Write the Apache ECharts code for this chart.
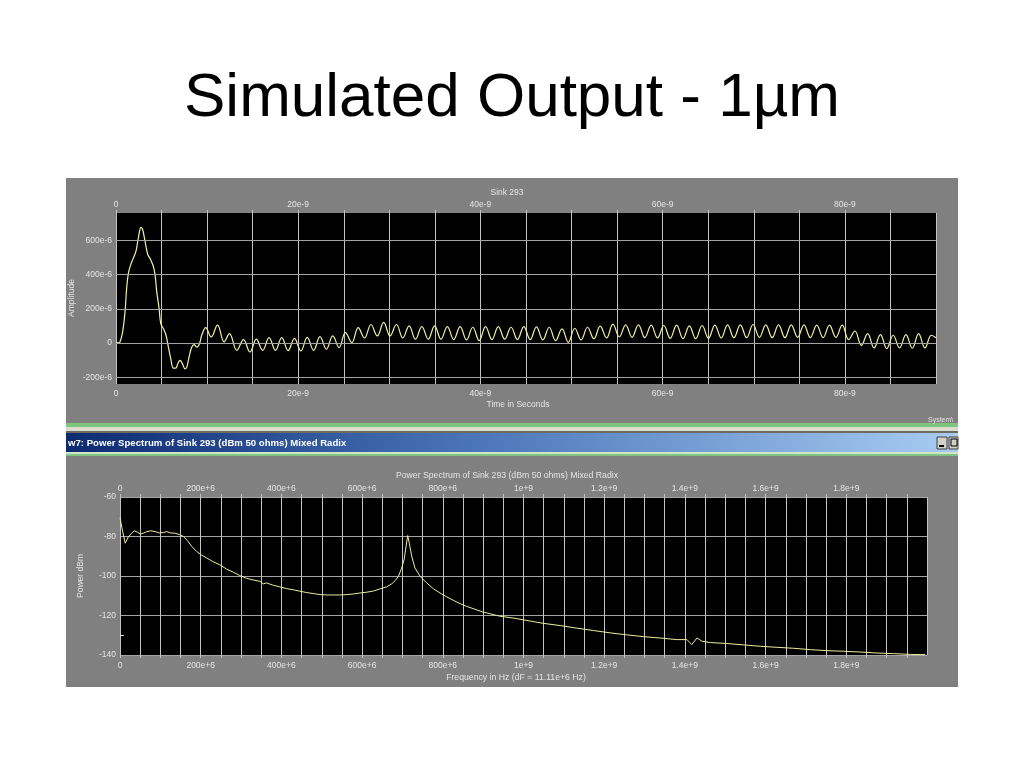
<!DOCTYPE html>
<html><head><meta charset="utf-8">
<script src="https://cdn.jsdelivr.net/npm/echarts@6/dist/echarts.min.js"></script>
<style>html,body{margin:0;padding:0;background:#fff;}#c{width:1024px;height:768px;}</style>
</head><body><div id="c"></div>
<script>
// ---------- texts ----------
const pageTitle = 'Simulated Output - 1\u00b5m';
const timeTitle = 'Sink 293';
const timeAxisName = 'Time in Seconds';
const ampAxisName = 'Amplitude';
const specWindowTitle = 'w7: Power Spectrum of Sink 293 (dBm 50 ohms) Mixed Radix';
const specTitle = 'Power Spectrum of Sink 293 (dBm 50 ohms) Mixed Radix';
const freqAxisName = 'Frequency in Hz (dF = 11.11e+6 Hz)';
const powerAxisName = 'Power dBm';
const cornerText = 'System\\';

// ---------- top chart: amplitude (units of 1e-6) vs time (ns) ----------
const ampGridLines = [-200, 0, 200, 400, 600];
const timeNs = [0, 0.26, 0.44, 0.73, 0.99, 1.17, 1.36, 1.61, 1.90, 2.20,
  2.45, 2.75, 2.93, 3.19, 3.48, 3.81, 4.10, 4.29, 4.47, 4.73,
  4.91, 5.20, 5.49, 5.75, 6.01, 6.30, 6.56, 6.78, 7.03, 7.29,
  7.58, 7.77, 8.02, 8.32, 8.57, 8.86, 9.16, 9.41, 9.85, 10.44,
  11.14, 11.87, 12.45, 13.26,
  14.00, 14.70, 15.40, 16.10, 16.80, 17.50, 18.19, 18.89, 19.59, 20.29,
  20.99, 21.69, 22.39, 23.09, 23.79, 24.49, 25.18, 25.88, 26.58, 27.28,
  27.98, 28.68, 29.38, 30.08, 30.78, 31.48, 32.17, 32.87, 33.57, 34.27,
  34.97, 35.67, 36.37, 37.07, 37.77, 38.47, 39.16, 39.86, 40.56, 41.26,
  41.96, 42.66, 43.36, 44.06, 44.76, 45.46, 46.15, 46.85, 47.55, 48.25,
  48.95, 49.65, 50.35, 51.05, 51.75, 52.45, 53.14, 53.84, 54.54, 55.24,
  55.94, 56.64, 57.34, 58.04, 58.74, 59.44, 60.13, 60.83, 61.53, 62.23,
  62.93, 63.63, 64.33, 65.03, 65.73, 66.43, 67.12, 67.82, 68.52, 69.22,
  69.92, 70.62, 71.32, 72.02, 72.72, 73.42, 74.11, 74.81, 75.51, 76.21,
  76.91, 77.61, 78.31, 79.01, 79.71, 80.41, 81.10, 81.80, 82.50, 83.20,
  83.90, 84.60, 85.30, 86.00, 86.70, 87.40, 88.09, 88.79, 89.49, 90.00];
const ampMicro = [0, 0, 6, 65, 182, 320, 408, 457, 496, 539,
  613, 676, 662, 594, 519, 486, 447, 398, 300, 202,
  114, 84, 45, -24, -92, -147, -147, -122, -102, -122,
  -151, -141, -82, -24, -10, -24, -4, 45, 90, 35,
  104, 6, 55, -43,
  20, -53, 22, -43, 31, -43, 31, -45, 27, -47,
  33, -43, 37, -37, 41, -27, 61, 2, 90, 29,
  108, 41, 120, 41, 108, 29, 100, 22, 96, 22,
  100, 22, 96, 20, 96, 18, 92, 14, 96, 20,
  96, 22, 92, 20, 96, 20, 94, 18, 92, 14,
  82, 4, 86, 18, 92, 24, 98, 29, 110, 35,
  106, 33, 106, 31, 104, 29, 102, 27, 104, 25,
  100, 25, 102, 27, 104, 29, 106, 31, 106, 31,
  108, 33, 106, 31, 106, 31, 106, 33, 106, 31,
  104, 31, 104, 33, 104, 20, 70, -14, 55, -29,
  49, -33, 45, -29, 49, -31, 55, -29, 45, 30];

// ---------- bottom chart: power (dBm) vs frequency (MHz) ----------
const freqMHz = [0, 6.6, 13, 20.6, 28.9, 35.5, 43, 51, 57.8, 66,
  76, 86.7, 97.5, 107, 115.6, 125.5, 136, 147, 157, 167,
  177.6, 190, 202, 215, 231, 248, 264, 281, 297, 314,
  330, 347, 355, 363, 380, 396, 413, 430, 446, 463,
  479, 496, 512, 529, 545, 562, 578, 595, 612, 628,
  645, 661, 674, 682, 690, 698, 704, 709, 713, 717,
  723, 731, 744, 760, 777, 793, 810, 826, 843, 858,
  899, 940, 981, 1008, 1050, 1091, 1132, 1173, 1215, 1256,
  1297, 1339, 1380, 1405, 1417, 1430, 1442, 1463, 1504, 1546,
  1587, 1628, 1670, 1711, 1752, 1793, 1835, 1876, 1917, 1959, 1996];
const powerDbm = [-70.5, -77.5, -83.4, -80.3, -78.3, -77.1, -77.8, -78.8, -78.3, -77.6,
  -77.1, -77.5, -78.2, -78.0, -77.5, -78.2, -78.3, -79.0, -80.0, -82.0,
  -85.0, -87.6, -89.4, -90.9, -92.8, -94.4, -96.5, -98.1, -99.8, -101.2,
  -102.0, -102.7, -104.0, -103.5, -104.7, -105.5, -106.4, -107.0, -107.7, -108.4,
  -108.9, -109.4, -109.6, -109.6, -109.6, -109.4, -109.1, -108.6, -108.2, -107.6,
  -106.5, -105.5, -103.9, -102.3, -100.2, -96.0, -91.8, -85.0, -79.5, -83.4,
  -90.0, -96.0, -100.2, -103.5, -106.5, -108.6, -110.6, -112.3, -114.0, -115.3,
  -118.2, -120.3, -121.5, -122.5, -124.0, -125.1, -126.4, -127.6, -128.8, -129.8,
  -130.7, -131.4, -132.2, -132.2, -134.7, -131.4, -133.0, -133.7, -134.2, -134.9,
  -135.6, -136.1, -136.6, -137.3, -137.8, -138.1, -138.5, -139.0, -139.3, -139.7, -139.8];

// ---------- build ----------
const timeData = [];
for (let i = 0; i < Math.min(timeNs.length, ampMicro.length); i++) timeData.push([timeNs[i], ampMicro[i]]);
const specData = [];
for (let i = 0; i < Math.min(freqMHz.length, powerDbm.length); i++) specData.push([freqMHz[i], powerDbm[i]]);

const FONT = '"Liberation Sans", Arial, sans-serif';
const LBL = '#e4e4e4';
const VGRID = '#c4c4c4';
const HGRID = '#a4a4a4';
const PANEL = '#808080';

function timeLabel(v) { const n = Math.round(v); if (n % 20 !== 0) return ''; return n === 0 ? '0' : n + 'e-9'; }
function ampLabel(v) { const n = Math.round(v); if (n % 200 !== 0) return ''; return n === 0 ? '0' : n + 'e-6'; }
function freqLabel(v) { const n = Math.round(v); if (n % 200 !== 0) return ''; if (n === 0) return '0'; if (n < 1000) return n + 'e+6'; return (n / 1000) + 'e+9'; }
function dbLabel(v) { return String(Math.round(v)); }

function xAx(gridIndex, pos, min, max, interval, fmt, margin, split) {
  return {
    type: 'value', gridIndex: gridIndex, position: pos, min: min, max: max, interval: interval,
    axisLine: { show: false },
    axisTick: { show: true, length: 3, inside: false, lineStyle: { color: VGRID, width: 1 } },
    axisLabel: { show: true, formatter: fmt, color: LBL, fontFamily: FONT, fontSize: 8.5, margin: margin, showMaxLabel: false },
    splitLine: { show: split, lineStyle: { color: VGRID, width: 1 } }
  };
}

const chart = echarts.init(document.getElementById('c'), null, { renderer: 'canvas' });
const txt = (x, y, text, size, opts) => Object.assign({
  type: 'text', x: x, y: y, z: 50,
  style: Object.assign({ text: text, fill: LBL, font: size + 'px ' + FONT, align: 'center', verticalAlign: 'middle' }, (opts && opts.style) || {})
}, (opts && opts.el) || {});

chart.setOption({
  backgroundColor: '#ffffff',
  animation: false,
  grid: [
    { left: 116, top: 213, width: 820, height: 171, show: true, backgroundColor: '#000000', borderWidth: 0, containLabel: false },
    { left: 120, top: 497, width: 807, height: 158, show: true, backgroundColor: '#000000', borderWidth: 0, containLabel: false }
  ],
  xAxis: [
    xAx(0, 'bottom', 0, 90, 5, timeLabel, 5, true),
    xAx(0, 'top', 0, 90, 5, timeLabel, 4, false),
    xAx(1, 'bottom', 0, 2000, 50, freqLabel, 6, true),
    xAx(1, 'top', 0, 2000, 50, freqLabel, 4, false)
  ],
  yAxis: [
    { type: 'value', gridIndex: 0, min: -240, max: 760, interval: 40,
      axisLine: { show: false }, axisTick: { show: false },
      axisLabel: { formatter: ampLabel, color: LBL, fontFamily: FONT, fontSize: 8.5, margin: 4 },
      splitLine: { show: false } },
    { type: 'value', gridIndex: 1, min: -140, max: -60, interval: 20,
      axisLine: { show: false }, axisTick: { show: false },
      axisLabel: { formatter: dbLabel, color: LBL, fontFamily: FONT, fontSize: 8.5, margin: 4 },
      splitLine: { show: true, lineStyle: { color: HGRID, width: 1 } } }
  ],
  series: [
    { type: 'line', xAxisIndex: 0, yAxisIndex: 0, data: timeData, smooth: 0.4, symbol: 'none',
      lineStyle: { color: '#f2f2a6', width: 1.2 }, z: 3,
      markLine: { silent: true, symbol: 'none', label: { show: false },
        lineStyle: { color: HGRID, width: 1, type: 'solid' },
        data: ampGridLines.map(v => ({ yAxis: v })) } },
    { type: 'line', xAxisIndex: 2, yAxisIndex: 1, data: specData, smooth: false, symbol: 'none',
      lineStyle: { color: '#ecec9e', width: 1 }, z: 3 }
  ],
  graphic: [
    // page title
    txt(512, 99, pageTitle, 62, { style: { fill: '#000000' } }),
    // panels
    { type: 'rect', z: -10, shape: { x: 66, y: 178, width: 892, height: 245 }, style: { fill: PANEL } },
    { type: 'rect', z: -10, shape: { x: 66, y: 423, width: 892, height: 4 }, style: { fill: '#7fc47f' } },
    { type: 'rect', z: -10, shape: { x: 66, y: 427, width: 892, height: 4 }, style: { fill: '#dcdccf' } },
    { type: 'rect', z: -10, shape: { x: 66, y: 431, width: 892, height: 2 }, style: { fill: '#6e6c60' } },
    { type: 'rect', z: -10, shape: { x: 66, y: 433, width: 892, height: 19 },
      style: { fill: new echarts.graphic.LinearGradient(0, 0, 1, 0, [
        { offset: 0, color: '#0c2a70' }, { offset: 0.45, color: '#4a74b8' }, { offset: 1, color: '#a8ccf2' }]) } },
    { type: 'rect', z: -10, shape: { x: 66, y: 452, width: 892, height: 2 }, style: { fill: '#cfe6c8' } },
    { type: 'rect', z: -10, shape: { x: 66, y: 454, width: 892, height: 2 }, style: { fill: '#7fc47f' } },
    { type: 'rect', z: -10, shape: { x: 66, y: 456, width: 892, height: 231 }, style: { fill: PANEL } },
    // title bar text and buttons
    txt(68, 443, specWindowTitle, 9.6, { style: { fill: '#ffffff', align: 'left', font: 'bold 9.6px ' + FONT } }),
    { type: 'rect', z: 40, shape: { x: 937, y: 437, width: 10, height: 12 }, style: { fill: '#d4d0c8', stroke: '#404040', lineWidth: 1 } },
    { type: 'rect', z: 40, shape: { x: 949, y: 437, width: 9, height: 12 }, style: { fill: '#d4d0c8', stroke: '#404040', lineWidth: 1 } },
    { type: 'rect', z: 41, shape: { x: 939, y: 445, width: 5, height: 2 }, style: { fill: '#000000' } },
    { type: 'rect', z: 41, shape: { x: 951, y: 439, width: 6, height: 7 }, style: { fill: 'none', stroke: '#000000', lineWidth: 1 } },
    // small white marker left of lower plot
    { type: 'rect', z: 41, shape: { x: 120, y: 635, width: 4, height: 1 }, style: { fill: '#e8e8e8' } },
    // top chart texts
    txt(507, 193, timeTitle, 8.5),
    txt(518, 405, timeAxisName, 8.5),
    txt(72, 298, ampAxisName, 8.5, { el: { rotation: Math.PI / 2 } }),
    txt(928, 420, cornerText, 7, { style: { align: 'left' } }),
    // bottom chart texts
    txt(507, 476, specTitle, 8.7),
    txt(516, 678, freqAxisName, 8.7),
    txt(81, 576, powerAxisName, 8.5, { el: { rotation: Math.PI / 2 } })
  ]
});
</script>
</body></html>
